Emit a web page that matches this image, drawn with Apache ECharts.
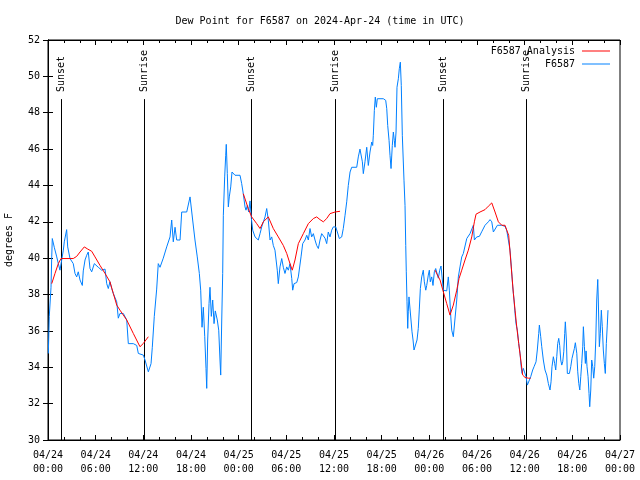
<!DOCTYPE html>
<html><head><meta charset="utf-8">
<script src="https://cdn.jsdelivr.net/npm/echarts@6/dist/echarts.min.js"></script>
<style>html,body{margin:0;padding:0;background:#fff}#c{width:640px;height:480px}</style>
</head><body><div id="c"></div>
<script>
// Hours since 2024-04-24 00:00 UTC
const obsHours = [0.04,0.16,0.38,0.47,0.54,0.67,0.79,1.10,1.30,1.51,1.93,2.05,2.35,2.48,2.77,3.18,3.40,3.61,3.81,4.03,4.32,4.44,4.66,4.87,5.07,5.29,5.50,5.83,6.33,6.76,7.18,7.39,7.59,7.80,8.02,8.22,8.65,8.85,9.06,9.48,9.91,10.11,10.74,11.17,11.37,12.00,12.21,12.63,12.97,13.13,13.38,13.68,13.88,14.10,14.51,14.94,15.36,15.57,15.77,15.99,16.20,16.62,16.83,17.46,17.88,18.21,18.50,18.79,19.05,19.22,19.39,19.55,19.73,19.89,19.98,20.10,20.27,20.39,20.56,20.73,20.90,21.06,21.31,21.49,21.65,21.74,21.87,21.99,22.07,22.24,22.37,22.44,22.57,22.70,22.82,23.00,23.16,23.54,24.17,24.38,24.58,24.80,24.92,25.09,25.26,25.43,25.60,25.77,26.06,26.47,26.69,26.90,27.32,27.53,27.73,27.95,28.16,28.36,28.57,28.86,28.99,29.20,29.42,29.62,29.83,30.05,30.25,30.46,30.68,30.80,30.97,31.31,31.51,31.72,31.85,32.06,32.35,32.57,32.77,32.98,33.19,33.40,33.61,33.82,34.03,34.24,34.45,34.66,34.87,35.08,35.28,35.50,35.71,35.91,36.22,36.42,36.67,36.97,37.17,37.39,37.60,37.80,38.02,38.23,38.86,39.06,39.27,39.40,39.57,39.69,39.90,40.12,40.32,40.53,40.75,40.87,40.95,41.08,41.20,41.33,41.45,41.70,42.21,42.51,42.64,42.76,42.93,43.05,43.18,43.34,43.47,43.59,43.68,43.81,43.93,44.10,44.22,44.35,44.47,44.60,44.81,44.94,45.03,45.10,45.19,45.28,45.35,45.44,45.69,45.82,45.95,46.07,46.29,46.45,46.61,46.74,46.87,47.04,47.24,47.37,47.55,47.67,47.87,48.00,48.12,48.30,48.46,48.63,48.80,48.97,49.13,49.31,49.47,49.76,50.19,50.39,50.52,50.70,50.82,51.02,51.27,51.45,51.65,51.86,52.08,52.28,52.49,52.71,52.91,53.12,53.34,53.54,53.67,53.97,54.30,54.59,55.01,55.22,55.43,55.64,55.86,56.06,56.31,56.57,57.12,57.53,57.74,57.94,58.16,58.32,58.50,58.66,58.79,58.91,59.08,59.25,59.42,59.54,59.67,59.83,60.05,60.17,60.34,60.59,60.76,61.01,61.18,61.43,61.59,61.77,61.85,62.02,62.15,62.35,62.56,62.78,62.98,63.19,63.32,63.44,63.61,63.78,63.91,64.04,64.16,64.29,64.41,64.54,64.67,64.79,64.92,65.04,65.12,65.25,65.37,65.63,65.80,65.96,66.13,66.26,66.38,66.56,66.68,66.81,66.94,67.06,67.18,67.31,67.39,67.52,67.64,67.73,67.85,67.98,68.10,68.19,68.32,68.44,68.57,68.69,68.82,68.95,69.07,69.20,69.27,69.40,69.52,69.65,69.77,69.90,70.03,70.15,70.28,70.40,70.49];
const obsValues = [34.76,36.8,38.4,40.07,41.08,41.0,40.6,40.07,39.7,39.34,40.44,40.9,41.57,40.62,39.98,39.7,39.16,38.97,39.25,38.8,38.5,39.3,39.9,40.16,40.34,39.43,39.25,39.7,39.5,39.34,39.4,38.6,38.33,38.7,38.33,38.06,37.6,36.7,36.96,36.96,36.6,35.3,35.3,35.2,34.76,34.67,34.4,33.75,34.2,35.1,36.8,38.3,39.7,39.5,40.0,40.62,41.17,42.1,40.9,41.7,41.0,41.0,42.54,42.54,43.37,42.1,41.0,40.07,39.16,38.24,36.2,37.3,35.68,33.94,32.84,35.5,37.5,38.4,36.8,37.7,36.4,37.1,36.6,36.04,34.4,33.57,36.6,39.16,42.36,44.47,45.66,46.26,44.65,42.82,43.37,43.92,44.74,44.56,44.56,44.1,43.55,42.82,42.64,42.9,42.54,43.15,42.18,41.54,41.17,41.0,41.35,41.72,42.27,42.73,42.09,41.0,41.17,40.7,40.44,39.34,38.6,39.52,39.98,39.5,39.16,39.52,39.34,39.7,38.88,38.24,38.6,38.66,38.97,39.0,40.07,40.8,41.0,41.26,41.0,41.63,41.17,41.35,41.0,40.7,40.53,41.0,41.35,41.44,41.1,40.8,41.44,41.17,41.54,41.72,41.72,41.44,41.08,41.17,41.63,42.36,43.1,44.0,44.74,45.0,45.0,45.57,46.0,46.1,45.3,44.65,45.3,46.1,45.1,45.84,46.39,46.2,46.76,48.13,48.86,48.3,48.77,48.86,48.77,48.68,48.22,47.3,46.48,45.66,44.93,46.2,46.94,46.48,46.1,46.94,49.4,49.87,50.42,50.78,49.5,46.76,44.29,42.9,40.7,39.25,37.6,36.14,37.05,37.87,37.87,35.95,35.5,34.95,35.0,35.5,36.14,37.2,38.33,38.97,39.34,38.7,38.24,38.5,39.07,39.34,38.7,38.97,38.5,39.25,39.43,39.16,38.9,39.34,39.57,38.24,38.2,38.97,38.24,36.77,36.04,35.68,35.68,37.7,38.97,39.52,40.07,40.26,40.34,41.08,41.17,41.35,41.45,41.81,41.0,41.17,41.2,41.45,41.81,41.87,42.0,42.12,42.0,41.44,41.44,41.81,41.81,41.75,41.54,41.45,40.44,39.52,38.42,37.7,36.96,36.4,36.04,35.31,34.76,34.12,33.66,33.94,34.0,33.48,33.02,33.02,33.48,33.85,34.03,34.3,34.95,35.86,36.32,35.68,35.13,34.4,33.85,33.57,33.11,32.75,33.2,34.03,34.58,34.2,33.85,34.58,35.31,35.59,35.2,34.4,34.12,34.3,34.85,35.86,36.5,35.5,33.66,33.66,34.03,34.49,34.58,35.04,35.35,34.77,33.75,33.11,32.75,33.48,34.21,35.13,36.23,35.13,34.21,34.9,34.03,33.48,32.56,31.83,32.75,34.4,34.03,33.4,34.03,35.5,37.7,38.83,37.7,35.13,35.86,37.14,36.23,34.95,34.21,33.66,35.31,36.32,37.14];

const anaHours1 = [0.47,0.88,1.30,1.64,3.18,3.61,4.03,4.57,5.00,5.50,5.92,6.55,7.18,7.80,8.22,8.65,9.06,9.91,10.74,11.58,12.00,12.63];
const anaValues1 = [38.6,39.16,39.7,39.98,39.98,40.1,40.34,40.62,40.5,40.38,40.07,39.6,39.16,38.7,38.06,37.42,37.14,36.6,35.86,35.13,35.31,35.68];
const anaHours2 = [24.58,25.21,25.64,26.27,26.69,27.10,27.73,28.36,28.99,29.62,30.05,30.46,30.75,31.09,31.51,32.14,32.77,33.40,33.82,34.24,34.66,35.08,35.50,36.13,36.76];
const anaValues2 = [43.55,42.73,42.27,41.9,41.63,42.0,42.27,41.63,41.17,40.7,40.26,39.7,39.34,39.9,40.8,41.35,41.9,42.18,42.27,42.12,42.0,42.18,42.45,42.54,42.58];
const anaHours3 = [48.72,49.35,49.76,50.19,50.60,50.82,51.02,51.45,51.74,52.08,52.49,52.91,53.34,53.67,53.88,54.38,55.01,55.43,55.86,56.27,56.69,57.12,57.53,57.74,57.99,58.24,58.41,58.58,58.79,59.00,59.25,59.51,59.75,60.05,60.46,60.76];
const anaValues3 = [39.34,38.8,38.15,37.5,36.87,36.8,37.42,38.24,38.88,39.34,39.9,40.44,41.17,42.0,42.42,42.54,42.67,42.86,43.04,42.54,42.0,41.81,41.81,41.54,41.26,39.9,38.97,38.06,37.14,36.23,35.31,34.4,33.57,33.44,33.4,33.4];

const sunHours = [1.64,12.08,25.55,36.13,49.70,60.20];
const sunLabels = ['Sunset','Sunrise','Sunset','Sunrise','Sunset','Sunrise'];
const sunLineTop = 48.75;

const xTickLabels = ['04/24\n00:00','04/24\n06:00','04/24\n12:00','04/24\n18:00','04/25\n00:00','04/25\n06:00','04/25\n12:00','04/25\n18:00','04/26\n00:00','04/26\n06:00','04/26\n12:00','04/26\n18:00','04/27\n00:00'];
const yMin = 30, yMax = 52, yStep = 2;
const xMin = 0, xMax = 72, xStep = 6;

const FONT = 'DejaVu Sans Mono';
const zip = (a,b) => a.map((v,i)=>[v,b[i]]);

const chart = echarts.init(document.getElementById('c'), null, {renderer:'canvas'});
const tickCommon = {show:true, inside:true, length:5, lineStyle:{color:'#000', width:1}};
const minorCommon = {show:true, splitNumber:3, length:3, lineStyle:{color:'#000', width:1}};
const redSeries = (h,v) => ({type:'line', name:'F6587 Analysis', data:zip(h,v), showSymbol:false, symbol:'none', lineStyle:{color:'#ff0000', width:1}, itemStyle:{color:'#ff0000'}, z:3});

chart.setOption({
  animation:false,
  backgroundColor:'#fff',
  title:{text:'Dew Point for F6587 on 2024-Apr-24 (time in UTC)', left:'center', top:11, textStyle:{fontFamily:FONT, fontSize:10, fontWeight:'normal', color:'#000'}},
  grid:{left:48, right:20, top:40, bottom:40, show:true, borderColor:'#000', borderWidth:1, backgroundColor:'transparent', containLabel:false, outerBoundsMode:'none'},
  legend:[
    {data:[{name:'F6587 Analysis', icon:'rect'}], right:30, top:46, orient:'vertical', align:'right', padding:0, itemWidth:28, itemHeight:1, itemGap:0, textStyle:{fontFamily:FONT, fontSize:10, color:'#000', padding:[0,2,0,0]}, selectedMode:false},
    {data:[{name:'F6587', icon:'rect'}], right:30, top:59, orient:'vertical', align:'right', padding:0, itemWidth:28, itemHeight:1, itemGap:0, textStyle:{fontFamily:FONT, fontSize:10, color:'#000', padding:[0,2,0,0]}, selectedMode:false}
  ],
  xAxis:[
    {type:'value', min:xMin, max:xMax, interval:xStep, position:'bottom',
     axisLine:{show:true, lineStyle:{color:'#000'}}, axisTick:tickCommon, minorTick:minorCommon,
     splitLine:{show:false},
     axisLabel:{show:true, margin:8, fontFamily:FONT, fontSize:10, color:'#000', lineHeight:14,
       formatter:(v)=>xTickLabels[Math.round((v - xMin)/xStep)] || ''}},
    {type:'value', min:xMin, max:xMax, interval:xStep, position:'top',
     axisLine:{show:true, lineStyle:{color:'#000'}}, axisTick:tickCommon, minorTick:minorCommon,
     splitLine:{show:false}, axisLabel:{show:false}}
  ],
  yAxis:[
    {type:'value', min:yMin, max:yMax, interval:yStep, position:'left',
     name:'degrees F', nameLocation:'middle', nameGap:34, nameRotate:90,
     nameTextStyle:{fontFamily:FONT, fontSize:10, color:'#000'},
     axisLine:{show:true, lineStyle:{color:'#000'}}, axisTick:tickCommon, splitLine:{show:false},
     axisLabel:{fontFamily:FONT, fontSize:10, color:'#000', margin:8}},
    {type:'value', min:yMin, max:yMax, interval:yStep, position:'right',
     axisLine:{show:true, lineStyle:{color:'#000'}}, axisTick:tickCommon, splitLine:{show:false},
     axisLabel:{show:false}}
  ],
  series:[
    {type:'custom', name:'sun', data:sunHours.map((h,i)=>[h, i]), xAxisIndex:0, yAxisIndex:0, z:1, silent:true,
     renderItem:(params, api)=>{
       const top = api.coord([api.value(0), sunLineTop]);
       const bot = api.coord([api.value(0), yMin]);
       const x = Math.round(top[0]) + 0.5;
       return {type:'group', children:[
         {type:'line', shape:{x1:x, y1:top[1], x2:x, y2:bot[1]}, style:{stroke:'#000', lineWidth:1}},
         {type:'text', x:x, y:top[1]-7, rotation:Math.PI/2,
          style:{text:sunLabels[api.value(1)], fill:'#000', font:'10px "'+FONT+'"', align:'left', verticalAlign:'middle'}}
       ]};
     }},
    redSeries(anaHours1, anaValues1),
    redSeries(anaHours2, anaValues2),
    redSeries(anaHours3, anaValues3),
    {type:'line', name:'F6587', data:zip(obsHours, obsValues), showSymbol:false, symbol:'none', lineStyle:{color:'#0080ff', width:1}, itemStyle:{color:'#0080ff'}, z:2}
  ]
});
</script></body></html>
